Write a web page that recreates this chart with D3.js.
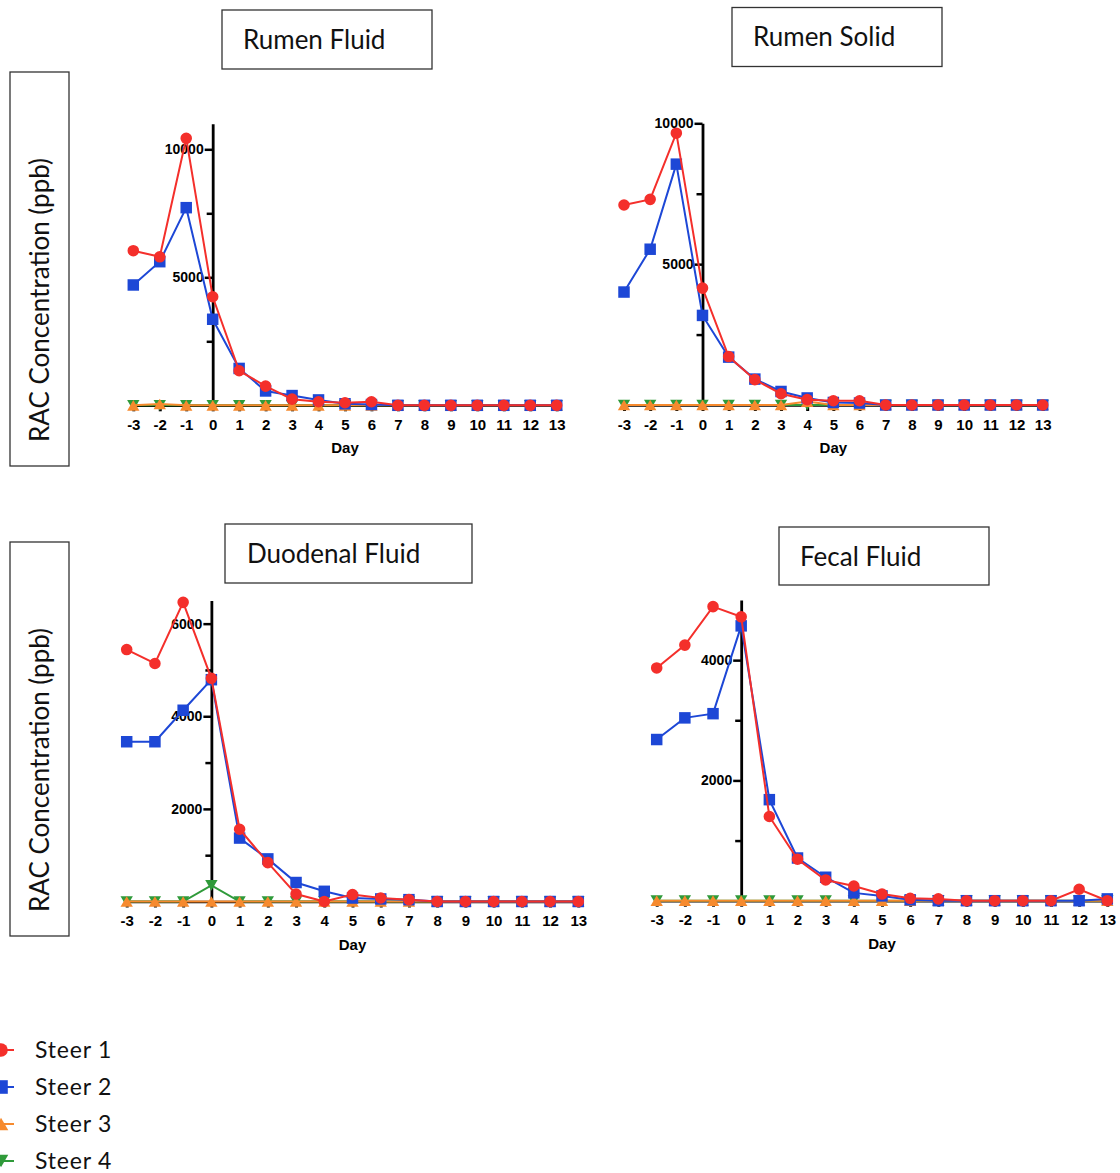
<!DOCTYPE html>
<html>
<head>
<meta charset="utf-8">
<script src="https://cdn.jsdelivr.net/npm/d3@7"></script>
<style>
  body { margin: 0; background: #fff; }
  svg { display: block; }
</style>
</head>
<body>
<svg id="chart" width="1120" height="1173"></svg>
<script>
// ---- data: RAC concentration (ppb) by day, per steer ----
const days = [-3, -2, -1, 0, 1, 2, 3, 4, 5, 6, 7, 8, 9, 10, 11, 12, 13];
const steerNames = ["Steer 1", "Steer 2", "Steer 3", "Steer 4"];

const rumenFluidSteer1 = [6040, 5800, 10430, 4240, 1350, 750, 240, 140, 100, 140, 0, 0, 0, 0, 0, 0, 0];
const rumenFluidSteer2 = [4700, 5610, 7720, 3360, 1440, 560, 380, 210, 60, 30, 0, 0, 0, 0, 0, 0, 0];
const rumenFluidSteer3 = [0, 50, 0, 0, 0, 0, 0, 0, 0, 0, 0, 0, 0, 0, 0, 0, 0];
const rumenFluidSteer4 = [0, 0, 0, 0, 0, 0, 0, 0, 0, 0, 0, 0, 0, 0, 0, 0, 0];

const rumenSolidSteer1 = [7100, 7300, 9650, 4150, 1720, 900, 400, 190, 150, 150, 0, 0, 0, 0, 0, 0, 0];
const rumenSolidSteer2 = [4010, 5530, 8550, 3180, 1700, 920, 480, 250, 90, 70, 0, 0, 0, 0, 0, 0, 0];
const rumenSolidSteer3 = [0, 0, 0, 0, 0, 0, 0, 120, 0, 0, 0, 0, 0, 0, 0, 0, 0];
const rumenSolidSteer4 = [0, 0, 0, 0, 0, 0, 0, 0, 0, 0, 0, 0, 0, 0, 0, 0, 0];

const duodenalFluidSteer1 = [5440, 5140, 6460, 4820, 1560, 840, 160, 0, 150, 75, 40, 0, 0, 0, 0, 0, 0];
const duodenalFluidSteer2 = [3450, 3450, 4130, 4790, 1370, 920, 410, 220, 75, 55, 40, 0, 0, 0, 0, 0, 0];
const duodenalFluidSteer3 = [0, 0, 0, 0, 0, 0, 0, 0, 0, 0, 0, 0, 0, 0, 0, 0, 0];
const duodenalFluidSteer4 = [0, 0, 0, 350, 0, 0, 0, 0, 0, 0, 0, 0, 0, 0, 0, 0, 0];

const fecalFluidSteer1 = [3870, 4250, 4890, 4720, 1400, 690, 345, 245, 110, 40, 30, 0, 0, 0, 0, 190, 0];
const fecalFluidSteer2 = [2680, 3040, 3110, 4570, 1680, 710, 390, 130, 80, 15, 0, 0, 0, 0, 0, 0, 30];
const fecalFluidSteer3 = [0, 0, 0, 0, 0, 0, 0, 0, 0, 0, 0, 0, 0, 0, 0, 0, 0];
const fecalFluidSteer4 = [0, 0, 0, 0, 0, 0, 0, 0, 0, 0, 0, 0, 0, 0, 0, 0, 0];

const panelTitles = ["Rumen Fluid", "Rumen Solid", "Duodenal Fluid", "Fecal Fluid"];
const yAxisTitle = "RAC Concentration (ppb)";
const xAxisTitle = "Day";

// y-axis ranges and ticks per panel
const yMaxima = [11000, 10000, 6500, 5000];
const yMajorTicks = [[5000, 10000], [5000, 10000], [2000, 4000, 6000], [2000, 4000]];
const yMinorTicks = [[2500, 7500], [2500, 7500], [1000, 3000, 5000], [1000, 3000]];

// ---- styling ----
// triangles centred on their bounding box, pointing up or down
function boxTriangle(pointUp) {
  return {
    draw(context, size) {
      const s = Math.sqrt(size * 4 / Math.sqrt(3));
      const h = s * Math.sqrt(3) / 2;
      const tip = pointUp ? -h / 2 : h / 2;
      context.moveTo(0, tip);
      context.lineTo(s / 2, -tip);
      context.lineTo(-s / 2, -tip);
      context.closePath();
    }
  };
}

const steerColors = ["#f42f2b", "#1d47d6", "#f68a2e", "#2f9a3a"];
const steerSymbols = [
  { type: d3.symbolCircle, size: 105 },
  { type: d3.symbolSquare, size: 132 },
  { type: boxTriangle(true), size: 66 },
  { type: boxTriangle(false), size: 66 }
];

const panelSeries = [
  [rumenFluidSteer1, rumenFluidSteer2, rumenFluidSteer3, rumenFluidSteer4],
  [rumenSolidSteer1, rumenSolidSteer2, rumenSolidSteer3, rumenSolidSteer4],
  [duodenalFluidSteer1, duodenalFluidSteer2, duodenalFluidSteer3, duodenalFluidSteer4],
  [fecalFluidSteer1, fecalFluidSteer2, fecalFluidSteer3, fecalFluidSteer4]
];

// plot geometry (pixels)
const panelLayout = [
  { x0: 133.3, x1: 556.7, base: 405.3, top: 123.7, box: [222, 10, 210, 59], titleX: 243, titleY: 48.5 },
  { x0: 624.0, x1: 1042.7, base: 405.0, top: 123.3, box: [732, 7.5, 210, 59], titleX: 753, titleY: 46 },
  { x0: 126.7, x1: 578.3, base: 901.5, top: 600.5, box: [225, 524, 247, 59], titleX: 247, titleY: 563 },
  { x0: 656.7, x1: 1107.3, base: 900.7, top: 600.0, box: [779, 527, 210, 58], titleX: 800, titleY: 566 }
];

const svg = d3.select("#chart");
const labelFont = "Lato, 'Open Sans', sans-serif";
const axisFont = "'Liberation Sans', Arial, Helvetica, sans-serif";
const plainNumber = d => String(d);

// side titles for each row
[{ box: [10, 72, 59, 394], cx: 48.5, cy: 300 }, { box: [10, 542, 59, 394], cx: 48.5, cy: 770 }].forEach(t => {
  svg.append("rect")
    .attr("x", t.box[0]).attr("y", t.box[1]).attr("width", t.box[2]).attr("height", t.box[3])
    .attr("fill", "none").attr("stroke", "#333").attr("stroke-width", 1.3);
  svg.append("text")
    .attr("transform", `translate(${t.cx},${t.cy}) rotate(-90)`)
    .attr("text-anchor", "middle")
    .attr("font-family", labelFont).attr("font-size", 26).attr("fill", "#111")
    .text(yAxisTitle);
});

panelLayout.forEach((L, i) => {
  const g = svg.append("g");
  const x = d3.scaleLinear().domain([days[0], days[days.length - 1]]).range([L.x0, L.x1]);
  const y = d3.scaleLinear().domain([0, yMaxima[i]]).range([L.base, L.top]);

  // title box
  g.append("rect")
    .attr("x", L.box[0]).attr("y", L.box[1]).attr("width", L.box[2]).attr("height", L.box[3])
    .attr("fill", "none").attr("stroke", "#333").attr("stroke-width", 1.3);
  g.append("text")
    .attr("x", L.titleX).attr("y", L.titleY)
    .attr("font-family", labelFont).attr("font-size", 26).attr("fill", "#111")
    .text(panelTitles[i]);

  // x axis along zero
  const xAxis = g.append("g")
    .attr("transform", `translate(0,${L.base})`)
    .call(d3.axisBottom(x).tickValues(days).tickSize(6).tickSizeOuter(0).tickPadding(8).tickFormat(plainNumber));
  xAxis.select(".domain").attr("stroke", "#000").attr("stroke-width", 2.5);
  xAxis.selectAll(".tick line").attr("stroke", "#000").attr("stroke-width", 3);
  xAxis.selectAll("text")
    .attr("font-family", axisFont).attr("font-weight", "bold").attr("font-size", 15).attr("fill", "#000");

  g.append("text")
    .attr("x", x(5)).attr("y", L.base + 48)
    .attr("text-anchor", "middle")
    .attr("font-family", axisFont).attr("font-weight", "bold").attr("font-size", 15).attr("fill", "#000")
    .text(xAxisTitle);

  // y axis crossing at day 0
  const yMinor = g.append("g")
    .attr("transform", `translate(${x(0)},0)`)
    .call(d3.axisLeft(y).tickValues(yMinorTicks[i]).tickSize(6).tickSizeOuter(0).tickFormat(""));
  yMinor.select(".domain").remove();
  yMinor.selectAll(".tick line").attr("stroke", "#000").attr("stroke-width", 2.5);

  const yAxis = g.append("g")
    .attr("transform", `translate(${x(0)},0)`)
    .call(d3.axisLeft(y).tickValues(yMajorTicks[i]).tickSize(8).tickSizeOuter(0).tickPadding(1).tickFormat(plainNumber));
  yAxis.select(".domain").attr("stroke", "#000").attr("stroke-width", 2.8);
  yAxis.selectAll(".tick line").attr("stroke", "#000").attr("stroke-width", 2.5);
  yAxis.selectAll("text")
    .attr("font-family", axisFont).attr("font-weight", "bold").attr("font-size", 14).attr("fill", "#000");

  // series: steer 4 at the bottom, steer 1 on top
  const line = d3.line().x(d => x(d[0])).y(d => y(d[1]));
  for (let s = 3; s >= 0; s--) {
    const pts = days.map((d, k) => [d, panelSeries[i][s][k]]);
    g.append("path")
      .attr("d", line(pts))
      .attr("fill", "none").attr("stroke", steerColors[s]).attr("stroke-width", 2);
    const sym = d3.symbol().type(steerSymbols[s].type).size(steerSymbols[s].size);
    g.append("g").selectAll("path")
      .data(pts)
      .join("path")
      .attr("d", sym)
      .attr("transform", d => `translate(${x(d[0])},${y(d[1])})`)
      .attr("fill", steerColors[s]);
  }
});

// legend
const legend = svg.append("g");
steerNames.forEach((name, s) => {
  const cy = 1050 + s * 37;
  const row = legend.append("g");
  row.append("line")
    .attr("x1", -10).attr("x2", 14).attr("y1", cy).attr("y2", cy)
    .attr("stroke", steerColors[s]).attr("stroke-width", 2);
  row.append("path")
    .attr("d", d3.symbol().type(steerSymbols[s].type).size(steerSymbols[s].size * 1.4))
    .attr("transform", `translate(1,${cy})`)
    .attr("fill", steerColors[s]);
  row.append("text")
    .attr("x", 35).attr("y", cy + 8)
    .attr("font-family", labelFont).attr("font-size", 23).attr("letter-spacing", 0.8)
    .attr("fill", "#111")
    .text(name);
});
</script>
</body>
</html>
